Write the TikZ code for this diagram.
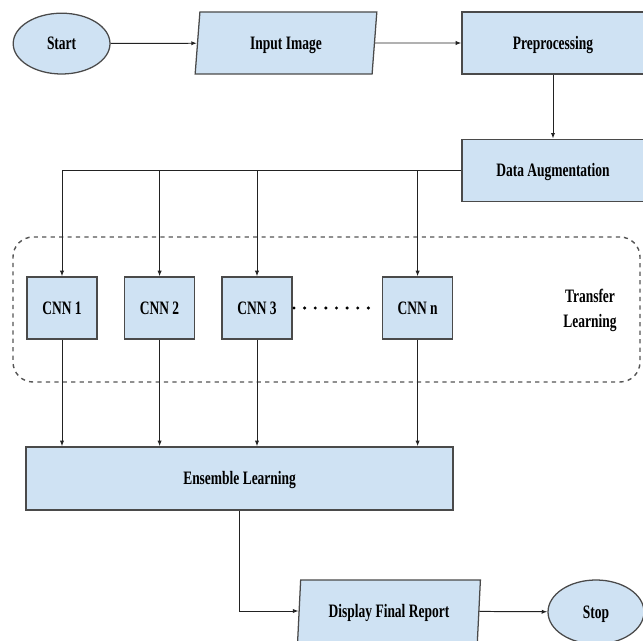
\documentclass[tikz,border=0pt]{standalone}
\usepackage{fontspec}
\setmainfont{Liberation Serif}[FakeStretch=0.71]
\usepackage{tikz}
\usetikzlibrary{shapes.geometric, arrows.meta, positioning, calc}
\definecolor{boxblue}{HTML}{CFE2F3}
\definecolor{edgegray}{HTML}{4A4A4A}
\definecolor{linegray}{HTML}{222222}
\definecolor{dashgray}{HTML}{555555}

\tikzset{
	block/.style={rectangle, draw=edgegray, fill=boxblue, line width=0.9pt, inner sep=0pt, text depth=0pt, font=\fontsize{13.5}{16}\selectfont\bfseries},
	terminal/.style={ellipse, draw=edgegray, fill=boxblue, line width=0.9pt, inner sep=0pt, text depth=0pt, font=\fontsize{13.5}{16}\selectfont\bfseries},
	io/.style={trapezium, trapezium left angle=81, trapezium right angle=99, trapezium stretches=true, draw=edgegray, fill=boxblue, line width=0.9pt, inner sep=0pt, text depth=0pt, font=\fontsize{13.5}{16}\selectfont\bfseries},
	flow/.style={draw=linegray, line width=0.7pt, -{Latex[length=4pt,width=3pt]}},
	cnnbox/.style={block, minimum width=1.75cm, minimum height=1.55cm}
}

\begin{document}
\begin{tikzpicture}
	\useasboundingbox (0,0) rectangle (16.075,-16.025);
	\clip (0,0) rectangle (16.075,-16.025);

	%----------------------------------------------------------------
	\node(start) [terminal, minimum width=2.42cm, minimum height=1.52cm] at (1.54,-1.09) {Start};
	\node(input) [io, minimum width=4.55cm, minimum height=1.55cm] at (7.15,-1.075) {Input Image};
	\node(prep) [block, minimum width=4.55cm, minimum height=1.55cm] at (13.825,-1.075) {Preprocessing};
	\node(aug) [block, minimum width=4.55cm, minimum height=1.55cm, below=1.6cm of prep] {Data Augmentation};

	%----------------------------------------------------------------
	\node(transfer) [draw=dashgray, dashed, line width=1pt, rounded corners=0.5cm, minimum width=15.675cm, minimum height=3.625cm] at (8.1625,-7.7375) {};
	\node(cnn1) [cnnbox] at (1.55,-7.7) {CNN 1};
	\node(cnn2) [cnnbox] at (3.99,-7.7) {CNN 2};
	\node(cnn3) [cnnbox] at (6.425,-7.7) {CNN 3};
	\node(cnnn) [cnnbox] at (10.44,-7.7) {CNN n};
	\node(tlabel) [align=center, font=\fontsize{13.5}{17.8}\selectfont\bfseries] at (14.75,-7.75) {Transfer\\Learning};

	%----------------------------------------------------------------
	\node(ens) [block, minimum width=10.675cm, minimum height=1.575cm] at (5.99,-11.96) {Ensemble Learning};
	\node(disp) [io, minimum width=4.6cm, minimum height=1.55cm] at (9.725,-15.275) {Display Final Report};
	\node(stop) [terminal, minimum width=2.4cm, minimum height=1.6cm] at (14.9,-15.3) {Stop};

	%----------------------------------------------------------------
	\draw [flow] (start) -- (input);
	\draw [flow] (input) -- (prep);
	\draw [flow] (prep) -- (aug);
	\draw [flow] (aug.west) -| (cnn1.north);
	\foreach \c in {cnn2, cnn3, cnnn}
		\draw [flow] (\c.north |- aug.west) -- (\c.north);
	\foreach \c in {cnn1, cnn2, cnn3, cnnn}
		\draw [flow] (\c.south) -- (\c.south |- ens.north);
	\draw [black, line width=2.4pt, line cap=round, dash pattern=on 0pt off 7.55pt, shorten <=1pt, shorten >=2.8pt] (cnn3) -- (cnnn);
	\draw [flow] (ens.south) |- (disp.west);
	\draw [flow] (disp) -- (stop);
\end{tikzpicture}
\end{document}
